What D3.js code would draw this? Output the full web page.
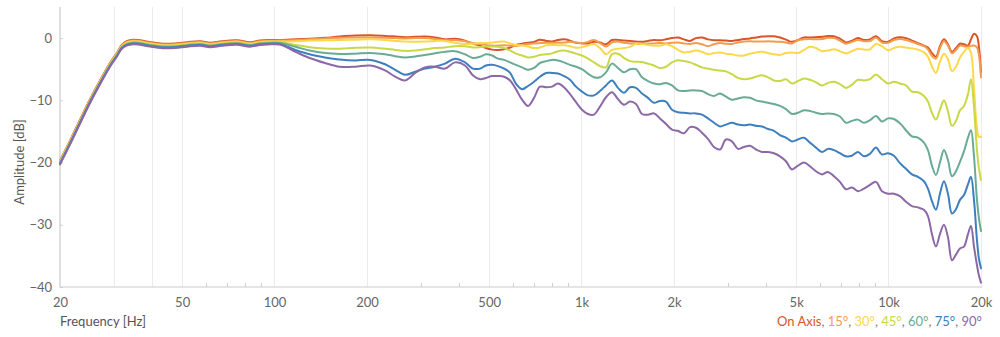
<!DOCTYPE html>
<html><head><meta charset="utf-8">
<script src="https://cdn.jsdelivr.net/npm/d3@7"></script>
<style>body{margin:0;background:#fff;} svg{display:block;font-family:Lato,"Open Sans",sans-serif;}</style>
</head><body><svg id="chart" width="1000" height="337"></svg>
<script>
const frequencies = [20,21.6,23.2,25,27,29.1,30.7,31.8,33.1,34.6,36.4,39.3,43.3,47.4,51.9,57.2,61.6,67.4,75.4,83.2,89.6,95.2,
104,117,130,146,163,183,205,229,247,266,287,309,333,359,387,417,443,
467,488,511,534,559,585,611,640,669,700,732,
766,801,838,876,917,959,1003,1049,1097,1148,
1201,1256,1314,1374,1438,1504,1573,1645,1721,1800,
1883,1970,2060,2155,2254,2358,2467,2580,2699,2823,
2953,3089,3231,3380,3536,3698,3868,4047,4233,4428,
4631,4844,5067,5301,5545,5800,6067,6346,6638,6944,
7263,7597,7947,8313,8695,9096,9514,9952,10410,10889,
11390,11915,12463,13037,
13434,13843,14265,14700,15148,15610,16086,16576,17081,17602,18138,18552,18974,19406,19701,20000];

const onAxis = [-19.7,-16.4,-13.2,-9.9,-6.8,-4.0,-2.3,-1.1,-0.45,-0.25,-0.35,-0.65,-0.9,-0.85,-0.65,-0.5,-0.75,-0.5,-0.35,-0.65,-0.4,-0.3,
-0.3,-0.2,-0.1,0.05,0.25,0.4,0.45,0.35,0.25,0.15,0.2,0.25,0.1,-0.2,-0.1,-0.4,-0.9,
-1.2,-1.6,-1.85,-1.9,-1.8,-1.5,-1.1,-0.9,-0.75,-0.6,-0.25,
-0.45,-0.55,-0.3,-0.2,-0.4,-0.75,-0.85,-0.85,-0.6,-0.7,
-1.0,-0.3,-0.3,-0.4,-0.45,-0.55,-0.6,-0.45,-0.3,-0.35,
-0.2,0.0,0.1,-0.2,-0.45,0.0,0.1,-0.2,-0.35,-0.35,
-0.4,-0.45,-0.3,-0.15,-0.05,0.1,0.25,0.3,0.3,0.1,
-0.25,-0.6,-0.3,0.1,0.1,0.15,0.2,0.35,0.3,-0.1,
-0.7,-0.4,0.0,-0.3,-0.2,0.3,-0.5,-0.6,-0.05,0.15,
0.0,-0.4,-0.8,-1.2,
-1.5,-2.4,-3.0,-1.3,-0.2,-1.0,-2.2,-1.6,-0.9,-1.0,-1.2,-0.2,0.7,0.3,-1.5,-5.5];

const deg15 = [-19.8,-16.5,-13.3,-10.0,-6.9,-4.1,-2.4,-1.2,-0.57,-0.37,-0.47,-0.77,-1.02,-0.97,-0.77,-0.62,-0.87,-0.62,-0.47,-0.77,-0.52,-0.42,
-0.4,-0.3,-0.2,-0.05,0.05,0.1,0.1,0.05,0.0,-0.05,0.0,0.0,-0.15,-0.35,-0.3,-0.5,-0.8,
-0.9,-1.1,-1.2,-1.2,-1.15,-1.2,-1.25,-1.1,-0.95,-0.85,-0.8,
-0.75,-0.75,-0.75,-0.7,-0.6,-0.7,-0.8,-0.6,-0.3,-0.8,
-1.35,-0.7,-0.55,-0.75,-0.85,-0.9,-0.95,-0.9,-0.85,-0.8,
-0.85,-0.75,-0.7,-0.85,-0.95,-0.8,-1.0,-1.3,-1.0,-0.8,
-0.9,-0.95,-0.7,-0.55,-0.5,-0.55,-0.55,-0.5,-0.55,-0.6,
-0.7,-0.85,-0.35,-0.2,-0.15,-0.2,-0.15,0.05,0.0,-0.4,
-0.9,-0.6,-0.3,-0.5,-0.45,0.05,-0.7,-0.75,-0.3,-0.15,
-0.3,-0.6,-0.95,-1.3,
-1.8,-2.9,-3.3,-1.6,-0.5,-1.2,-2.45,-1.9,-1.2,-1.3,-1.4,-1.25,-1.2,-1.5,-2.8,-6.3];

const deg30 = [-19.9,-16.6,-13.4,-10.1,-7.0,-4.2,-2.5,-1.3,-0.69,-0.49,-0.59,-0.89,-1.14,-1.09,-0.89,-0.74,-0.99,-0.74,-0.59,-0.89,-0.64,-0.54,
-0.55,-0.5,-0.4,-0.35,-0.3,-0.25,-0.2,-0.3,-0.45,-0.55,-0.6,-0.55,-0.45,-0.45,-0.75,-0.95,-0.9,
-0.8,-0.8,-0.7,-0.6,-0.55,-0.85,-1.1,-1.2,-1.35,-1.6,-1.5,
-1.15,-1.1,-1.15,-1.15,-1.3,-1.55,-1.45,-1.2,-0.95,-1.6,
-2.6,-1.9,-1.7,-1.6,-1.4,-0.9,-0.95,-1.1,-1.2,-1.2,
-1.0,-1.3,-1.9,-2.3,-2.2,-2.0,-2.2,-2.6,-2.4,-2.3,
-2.5,-2.6,-2.8,-2.8,-2.5,-2.3,-2.2,-2.4,-2.6,-2.7,
-2.4,-2.3,-2.4,-1.9,-1.4,-1.6,-2.1,-2.0,-1.8,-2.1,
-2.45,-2.1,-1.7,-1.85,-1.8,-0.95,-1.3,-1.95,-1.6,-1.4,
-1.5,-1.65,-1.85,-2.3,
-3.0,-4.6,-5.6,-3.8,-2.5,-3.4,-5.3,-4.6,-3.1,-2.2,-1.6,-2.4,-8.0,-14.5,-15.9,-15.8];

const deg45 = [-20.0,-16.7,-13.5,-10.2,-7.1,-4.3,-2.6,-1.4,-0.81,-0.61,-0.71,-1.01,-1.26,-1.21,-1.01,-0.86,-1.11,-0.86,-0.71,-1.01,-0.76,-0.66,
-0.68,-1.1,-1.45,-1.65,-1.7,-1.55,-1.5,-1.7,-1.9,-2.05,-2.0,-1.8,-1.6,-1.5,-1.3,-1.3,-1.5,
-1.45,-1.35,-1.35,-1.4,-1.6,-2.0,-2.5,-2.8,-3.1,-3.0,-2.7,
-2.6,-2.45,-2.1,-2.0,-2.2,-2.5,-2.8,-3.3,-3.9,-4.5,
-4.7,-2.6,-2.5,-3.2,-3.7,-3.8,-3.85,-4.1,-4.4,-4.8,
-4.6,-3.9,-3.55,-3.7,-3.9,-4.3,-4.7,-4.9,-5.1,-5.2,
-5.35,-5.8,-6.4,-6.6,-6.5,-6.2,-5.95,-6.3,-6.8,-6.9,
-6.6,-7.3,-6.9,-6.5,-6.7,-7.1,-7.6,-7.2,-7.0,-7.4,
-8.0,-7.5,-6.7,-6.8,-6.6,-5.85,-6.6,-7.3,-7.0,-7.3,
-7.6,-8.6,-8.7,-9.3,
-10.2,-12.0,-13.1,-11.5,-10.0,-11.8,-14.1,-13.3,-11.6,-10.9,-9.0,-6.6,-11.0,-18.0,-21.0,-22.8];

const deg60 = [-20.1,-16.8,-13.6,-10.3,-7.2,-4.4,-2.7,-1.5,-0.93,-0.73,-0.83,-1.13,-1.38,-1.33,-1.13,-0.98,-1.23,-0.98,-0.83,-1.13,-0.88,-0.78,
-0.8,-1.4,-2.0,-2.4,-2.55,-2.5,-2.4,-2.6,-2.9,-3.1,-2.95,-2.7,-2.45,-2.2,-2.1,-2.6,-3.2,
-3.0,-2.6,-2.8,-3.3,-3.5,-3.9,-4.3,-4.7,-5.1,-4.8,-4.0,
-3.7,-3.5,-3.6,-3.9,-4.3,-4.6,-5.0,-5.7,-6.3,-6.3,
-5.5,-4.1,-4.8,-5.5,-5.0,-5.0,-6.3,-6.9,-7.3,-7.4,
-7.2,-7.6,-8.4,-8.5,-8.4,-8.4,-8.5,-9.0,-9.3,-8.9,
-9.4,-9.9,-9.7,-9.5,-9.6,-10.0,-10.2,-10.4,-10.6,-10.9,
-11.4,-12.2,-12.0,-11.6,-11.7,-12.0,-12.2,-12.1,-12.2,-12.6,
-13.6,-13.3,-13.1,-13.6,-13.2,-12.5,-13.4,-12.9,-13.0,-13.7,
-14.8,-15.8,-16.0,-16.8,
-18.0,-20.5,-22.0,-20.0,-18.0,-19.6,-22.2,-21.4,-19.9,-18.2,-16.0,-14.8,-19.0,-26.0,-29.0,-31.0];

const deg75 = [-20.2,-16.9,-13.7,-10.4,-7.3,-4.5,-2.8,-1.6,-1.05,-0.85,-0.95,-1.25,-1.5,-1.45,-1.25,-1.1,-1.35,-1.1,-0.95,-1.25,-1.0,-0.9,
-0.95,-1.9,-2.6,-3.1,-3.45,-3.6,-3.5,-4.2,-5.1,-5.9,-5.4,-4.9,-4.6,-4.1,-3.3,-3.9,-4.9,
-4.9,-4.4,-4.3,-4.5,-4.9,-5.6,-7.3,-8.2,-7.7,-7.0,-6.2,
-5.6,-5.6,-5.7,-6.1,-6.7,-7.8,-8.6,-9.2,-9.2,-8.5,
-7.6,-6.8,-8.0,-8.8,-7.9,-8.0,-8.9,-9.6,-10.4,-10.1,
-10.2,-11.5,-11.9,-12.0,-12.1,-12.1,-12.3,-12.9,-13.6,-14.2,
-13.9,-13.6,-13.9,-14.0,-13.9,-14.1,-14.2,-14.6,-14.9,-15.6,
-16.0,-16.6,-16.3,-16.0,-16.8,-17.6,-18.3,-17.8,-18.0,-18.5,
-19.0,-18.9,-18.3,-19.0,-18.6,-17.6,-18.7,-18.5,-18.9,-20.1,
-21.0,-21.9,-22.3,-23.0,
-24.2,-26.2,-27.6,-25.0,-23.0,-25.0,-28.2,-27.5,-26.0,-25.2,-23.5,-22.3,-26.0,-32.5,-35.5,-37.0];

const deg90 = [-20.3,-17.0,-13.8,-10.5,-7.4,-4.6,-2.9,-1.7,-1.17,-0.97,-1.07,-1.37,-1.62,-1.57,-1.37,-1.22,-1.47,-1.22,-1.07,-1.37,-1.12,-1.02,
-1.05,-2.2,-3.2,-4.0,-4.6,-4.6,-4.4,-5.2,-6.2,-6.8,-5.6,-4.7,-4.6,-4.9,-3.9,-4.4,-6.0,
-6.6,-6.4,-6.1,-6.1,-6.2,-6.8,-8.2,-9.9,-10.9,-9.6,-7.8,
-7.9,-7.8,-7.3,-7.9,-9.0,-10.3,-11.5,-12.2,-12.3,-11.0,
-9.5,-8.7,-9.8,-10.7,-10.2,-10.6,-12.2,-12.3,-12.1,-12.9,
-13.8,-14.7,-14.9,-15.3,-14.3,-14.4,-15.2,-16.2,-17.5,-17.9,
-16.3,-16.6,-17.8,-17.5,-17.3,-17.9,-18.3,-18.3,-18.5,-19.0,
-19.8,-21.1,-20.5,-20.0,-20.6,-21.4,-21.9,-21.5,-22.2,-23.1,
-24.3,-24.0,-24.6,-24.2,-23.6,-23.1,-24.6,-25.0,-25.0,-25.4,
-26.3,-27.0,-27.2,-27.6,
-28.6,-31.5,-33.5,-31.5,-30.0,-32.0,-35.7,-34.8,-33.8,-33.5,-31.5,-30.2,-33.5,-36.5,-38.2,-39.3];

const seriesNames = ["On Axis","15°","30°","45°","60°","75°","90°"];
const seriesColors = ["#d9532b","#f29d4b","#fdd84a","#c9d846","#6aab93","#3e7fc0","#8c68a7"];
const yTickValues = [0,-10,-20,-30,-40];
const xTickValues = [20,50,100,200,500,1000,2000,5000,10000,20000];
const xTickLabels = ["20","50","100","200","500","1k","2k","5k","10k","20k"];
const gridFreqs = [30,40,50,100,200,500,1000,2000,5000,10000,20000];
const minorFreqs = [60,70,80,90,300,400,600,700,800,900,3000,4000,6000,7000,8000,9000];

const seriesValues = [onAxis,deg15,deg30,deg45,deg60,deg75,deg90];

const svg = d3.select("#chart");
const L = 60, R = 981, T = 7, B = 287;
const x = d3.scaleLog().domain([20,20000]).range([L,R]);
const y = d3.scaleLinear().domain([-40,5]).range([B,T]);

// grid
svg.append("g").selectAll("line").data(gridFreqs).join("line")
  .attr("x1",d=>x(d)).attr("x2",d=>x(d)).attr("y1",T).attr("y2",B)
  .attr("stroke","#ebebeb").attr("stroke-width",1).attr("shape-rendering","crispEdges");

// minor ticks (inward)
svg.append("g").attr("transform",`translate(0,${B})`)
  .call(d3.axisBottom(x).tickValues(minorFreqs).tickSize(-4).tickFormat(""))
  .call(g=>g.select(".domain").remove())
  .call(g=>g.selectAll("line").attr("stroke","#cfcfcf").attr("shape-rendering","crispEdges"));

// x axis labels
svg.append("g").attr("transform",`translate(0,${B})`)
  .call(d3.axisBottom(x).tickValues(xTickValues).tickSize(0).tickPadding(11)
    .tickFormat((d,i)=>xTickLabels[i]))
  .call(g=>g.select(".domain").remove())
  .call(g=>g.selectAll("text").attr("fill","#666").attr("font-size",13).attr("font-family","Lato,'Open Sans',sans-serif"));

// y axis
svg.append("g").attr("transform",`translate(${L},0)`)
  .call(d3.axisLeft(y).tickValues(yTickValues).tickSize(-3).tickPadding(8))
  .call(g=>g.select(".domain").remove())
  .call(g=>g.selectAll("line").attr("stroke","#cfcfcf"))
  .call(g=>g.selectAll("text").attr("fill","#666").attr("font-size",13).attr("font-family","Lato,'Open Sans',sans-serif"));

// axis lines
svg.append("line").attr("x1",L).attr("x2",L).attr("y1",T).attr("y2",B+0.5)
  .attr("stroke","#cccccc").attr("stroke-width",1.2);
svg.append("line").attr("x1",L).attr("x2",R+1).attr("y1",B).attr("y2",B)
  .attr("stroke","#cccccc").attr("stroke-width",1.2);

// lines (On Axis drawn first, 90° last)
const line = d3.line().x(d=>x(d[0])).y(d=>y(d[1])).curve(d3.curveCatmullRom.alpha(0.5));
const order = [0,1,2,3,4,5,6];
svg.append("g").selectAll("path").data(order).join("path")
  .attr("d",i=>line(frequencies.map((f,k)=>[f,seriesValues[i][k]])))
  .attr("fill","none").attr("stroke",i=>seriesColors[i]).attr("stroke-width",2)
  .attr("stroke-linejoin","round").attr("stroke-linecap","round");

// axis titles
svg.append("text").attr("x",L).attr("y",326).attr("fill","#555").attr("font-size",13)
  .text("Frequency [Hz]");
svg.append("text").attr("transform","translate(24,162) rotate(-90)").attr("text-anchor","middle")
  .attr("fill","#555").attr("font-size",13).text("Amplitude [dB]");

// legend
const leg = svg.append("text").attr("x",982).attr("y",326).attr("text-anchor","end").attr("font-size",13);
seriesNames.forEach((n,i)=>{
  leg.append("tspan").attr("fill",seriesColors[i]).text(n);
  if(i<seriesNames.length-1) leg.append("tspan").attr("fill","#777").text(", ");
});
</script></body></html>
